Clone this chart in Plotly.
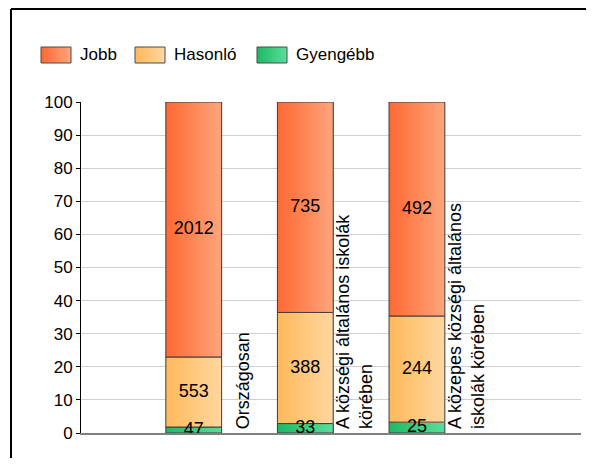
import plotly.graph_objects as go

# ---- data ----
categories = ["Országosan",
              "A községi általános iskolák<br>körében",
              "A közepes községi általános<br>iskolák körében"]
series_names = ["Gyengébb", "Hasonló", "Jobb"]
gyengebb = [47, 33, 25]
hasonlo = [553, 388, 244]
jobb = [2012, 735, 492]
y_ticks = [0, 10, 20, 30, 40, 50, 60, 70, 80, 90, 100]

# ---- styles ----
FONT = "Liberation Sans, Arial, sans-serif"
grad = {
    "Jobb": ((255, 104, 50), (255, 165, 125)),
    "Hasonló": ((255, 185, 90), (255, 215, 160)),
    "Gyengébb": ((30, 185, 100), (90, 222, 155)),
}
N = 20
BW = 0.5

series_counts = {"Gyengébb": gyengebb, "Hasonló": hasonlo, "Jobb": jobb}
totals = [a + b + c for a, b, c in zip(gyengebb, hasonlo, jobb)]
xs = list(range(len(categories)))


def lerp(c1, c2, t):
    return "rgb(%d,%d,%d)" % tuple(round(a + (b - a) * t) for a, b in zip(c1, c2))


fig = go.Figure()
base = [0.0] * len(xs)
label_traces = []
for name in series_names:
    counts = series_counts[name]
    pct = [c / t * 100 for c, t in zip(counts, totals)]
    c1, c2 = grad[name]
    for k in range(N):
        fig.add_trace(go.Bar(
            x=xs, y=pct, base=base, width=BW - k * BW / N,
            offset=-BW / 2 + k * BW / N,
            marker=dict(color=lerp(c1, c2, (k + 0.5) / N), line=dict(width=0)),
            showlegend=False, hoverinfo="skip"))
    fig.add_trace(go.Bar(
        x=xs, y=pct, base=base, width=BW, name=name,
        marker=dict(color="rgba(0,0,0,0)", line=dict(color="#3c3c3c", width=1)),
        showlegend=False))
    label_traces.append(go.Scatter(
        x=xs, y=[b + p / 2 for b, p in zip(base, pct)], mode="text",
        text=[str(c) for c in counts], textposition="middle center",
        textfont=dict(family=FONT, size=18, color="black"),
        showlegend=False, hoverinfo="skip", cliponaxis=False))
    base = [b + p for b, p in zip(base, pct)]
for t in label_traces:
    fig.add_trace(t)

# page body has an 8px offset; plot area in window px: x 81..581, y 102..433
OFF = 8
W, H = 594 - OFF, 466 - 2 * OFF
L, R, T, B = 81 - OFF, 581 - OFF, 102 - OFF, 433 - OFF


def px(x):
    return (x - OFF - L) / (R - L)


def py(y):
    return (B - (y - OFF)) / (B - T)


shapes = []
annotations = []
# outer frame lines
shapes.append(dict(type="line", xref="paper", yref="paper", x0=px(11), x1=px(594),
                   y0=py(9), y1=py(9), line=dict(color="black", width=2)))
shapes.append(dict(type="line", xref="paper", yref="paper", x0=px(11), x1=px(11),
                   y0=py(9), y1=py(458), line=dict(color="black", width=2)))

# legend (manual)
legend_order = ["Jobb", "Hasonló", "Gyengébb"]
swatch_x = [41, 135, 257]
for name, sx in zip(legend_order, swatch_x):
    c1, c2 = grad[name]
    n = 10
    for k in range(n):
        shapes.append(dict(type="rect", xref="paper", yref="paper",
                           x0=px(sx + k * 30 / n), x1=px(sx + 30),
                           y0=py(63), y1=py(47), line=dict(width=0),
                           fillcolor=lerp(c1, c2, (k + 0.5) / n)))
    shapes.append(dict(type="rect", xref="paper", yref="paper",
                       x0=px(sx), x1=px(sx + 30), y0=py(63), y1=py(47),
                       line=dict(color="#4a4a4a", width=1)))
    annotations.append(dict(xref="paper", yref="paper", x=px(sx + 37), y=py(55),
                            text=name, showarrow=False, xanchor="left", yanchor="middle",
                            font=dict(family=FONT, size=17, color="black")))

# category labels (rotated)
for i, cat in enumerate(categories):
    annotations.append(dict(xref="x", yref="y", x=i + 0.44, y=0, text=cat,
                            textangle=-90, showarrow=False, xanchor="center",
                            yanchor="bottom", yshift=2, align="left",
                            font=dict(family=FONT, size=18, color="black")))

fig.update_layout(
    width=W, height=H,
    margin=dict(l=L, r=W - R, t=T, b=H - B, autoexpand=False),
    paper_bgcolor="white", plot_bgcolor="white",
    barmode="overlay",
    showlegend=False,
    font=dict(family=FONT, color="black"),
    shapes=shapes, annotations=annotations,
    xaxis=dict(range=[-1.01, 3.47], showticklabels=False, showgrid=False,
               zeroline=False, showline=True, linecolor="#808080", linewidth=2,
               ticks=""),
    yaxis=dict(range=[0, 100], tickvals=y_ticks, showgrid=True, gridcolor="#d0d0d0",
               gridwidth=1, zeroline=False, showline=True, linecolor="black",
               linewidth=1, ticks="outside", ticklen=4, tickcolor="black",
               tickfont=dict(family=FONT, size=17, color="black")),
)

fig.write_html("out.html", config={"displayModeBar": False})
